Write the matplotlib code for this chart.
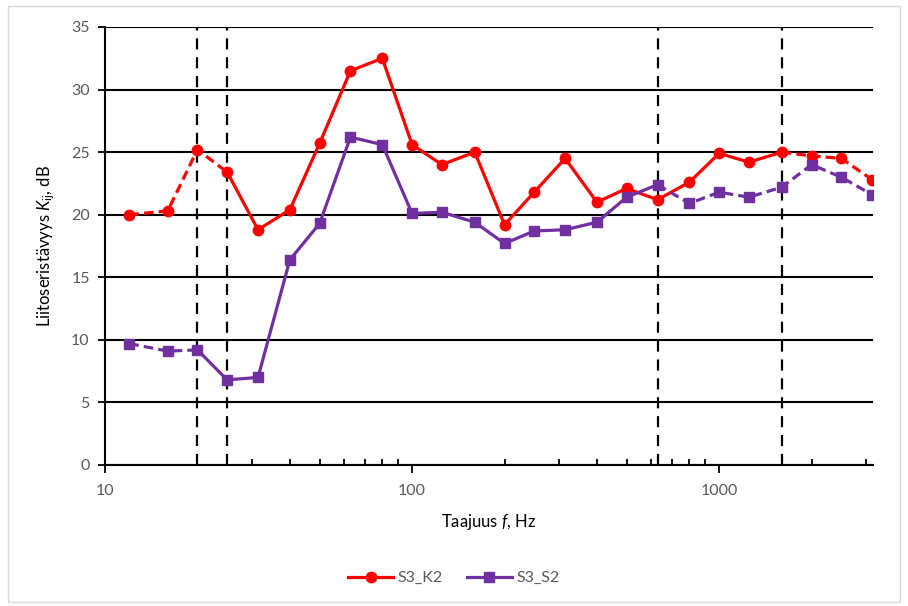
import matplotlib
matplotlib.use("Agg")
import matplotlib.pyplot as plt
from matplotlib.lines import Line2D
from matplotlib.patches import Rectangle
from matplotlib.ticker import FixedLocator, NullFormatter, FixedFormatter

plt.rcParams['font.family'] = ['Lato', 'DejaVu Sans']
plt.rcParams['mathtext.fontset'] = 'custom'
plt.rcParams['mathtext.rm'] = 'Lato'
plt.rcParams['mathtext.it'] = 'Lato:italic'

# Band centre frequencies (Hz)
freq = [12, 16, 20, 25, 31.5, 40, 50, 63, 80, 100, 125, 160, 200, 250,
        315, 400, 500, 630, 800, 1000, 1250, 1600, 2000, 2500, 3150]

# Junction attenuation K_ij (dB)
s3_k2 = [20.0, 20.3, 25.2, 23.4, 18.8, 20.4, 25.7, 31.5, 32.5, 25.6, 24.0,
         25.0, 19.2, 21.8, 24.5, 21.0, 22.1, 21.2, 22.6, 24.9, 24.2, 25.0,
         24.7, 24.5, 22.8]
s3_s2 = [9.7, 9.1, 9.2, 6.8, 7.0, 16.4, 19.3, 26.2, 25.6, 20.1, 20.2,
         19.4, 17.7, 18.7, 18.8, 19.4, 21.4, 22.4, 20.9, 21.8, 21.4, 22.2,
         24.0, 23.0, 21.6]

# Validity limits of the measurement range (Hz)
limits = [20, 25, 630, 1600]

RED = '#FF0000'
PURPLE = '#7030A0'
GREY = '#595959'

fig = plt.figure(figsize=(9.08, 6.06), dpi=100)
ax = fig.add_axes([105 / 908, 141 / 606, 768 / 908, 438 / 606])

# Chart area border
fig.patches.append(Rectangle((8 / 908, 4 / 606), 892 / 908, 596 / 606,
                             transform=fig.transFigure, fill=False,
                             edgecolor='#D9D9D9', linewidth=1.0))


def draw_series(y, color, marker, ms, solid_from, solid_to):
    # dashed outside the reliable band range, solid inside
    ax.plot(freq[:solid_from + 1], y[:solid_from + 1], color=color, lw=2.3,
            ls=(0, (3.0, 1.6)), zorder=4)
    ax.plot(freq[solid_from:solid_to + 1], y[solid_from:solid_to + 1],
            color=color, lw=2.3, ls='-', zorder=4)
    ax.plot(freq[solid_to:], y[solid_to:], color=color, lw=2.3,
            ls=(0, (3.0, 1.6)), zorder=4)
    ax.plot(freq, y, ls='none', marker=marker, ms=ms, color=color,
            markeredgecolor=color, zorder=5)


draw_series(s3_k2, RED, 'o', 7.5, freq.index(25), freq.index(1600))
draw_series(s3_s2, PURPLE, 's', 7, freq.index(20), freq.index(630))

for f in limits:
    ax.axvline(f, color='black', lw=1.6, ls=(0, (5, 3.5)), zorder=3)

ax.set_xscale('log')
ax.set_xlim(10, 3170)
ax.set_ylim(0, 35)

ax.set_yticks(range(0, 36, 5))
ax.yaxis.grid(True, color='black', lw=1.5)
ax.set_axisbelow(True)

ax.xaxis.set_major_locator(FixedLocator([10, 100, 1000]))
ax.xaxis.set_major_formatter(FixedFormatter(['10', '100', '1000']))
minor = [m * d for d in (10, 100, 1000) for m in range(2, 10) if m * d <= 3100]
ax.xaxis.set_minor_locator(FixedLocator(minor))
ax.xaxis.set_minor_formatter(NullFormatter())

ax.tick_params(axis='x', which='major', direction='out', length=6, width=1.3,
               colors='black', labelcolor=GREY, labelsize=11.5, pad=8)
ax.tick_params(axis='x', which='minor', direction='in', length=4, width=1.3,
               colors='black')
ax.tick_params(axis='y', which='major', direction='out', length=5, width=1.3,
               colors='black', labelcolor=GREY, labelsize=11.5, pad=6)

for side in ('top', 'right'):
    ax.spines[side].set_visible(False)
for side in ('left', 'bottom'):
    ax.spines[side].set_linewidth(1.5)
    ax.spines[side].set_color('black')

ax.set_xlabel(r'Taajuus $\mathit{f}$, Hz', fontsize=12, color='black', labelpad=10)
ax.set_ylabel(r'Liitoseristävyys $\mathit{K}_{\mathrm{ij}}$, dB', fontsize=12,
              color='black', labelpad=10)

handles = [
    Line2D([], [], color=RED, lw=2.3, marker='o', ms=7.5),
    Line2D([], [], color=PURPLE, lw=2.3, marker='s', ms=7),
]
fig.legend(handles, ['S3_K2', 'S3_S2'], loc='center', ncol=2,
           bbox_to_anchor=(0.5, 1 - 578 / 606), frameon=False, fontsize=11.5,
           labelcolor=GREY, handlelength=2.8, columnspacing=1.5,
           handletextpad=0.3)

fig.savefig('out.png', dpi=100)
